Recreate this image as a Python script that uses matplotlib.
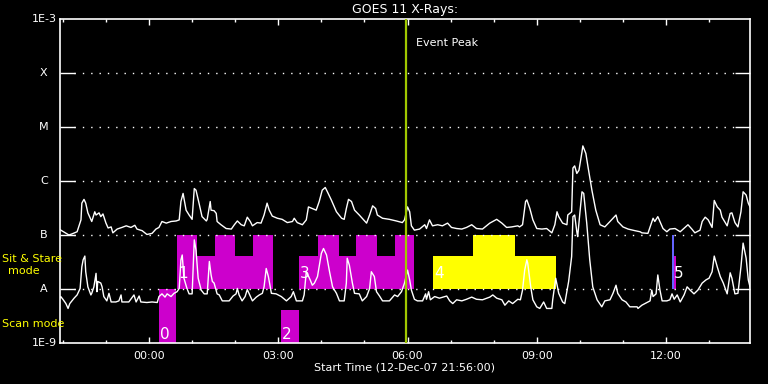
import matplotlib
matplotlib.use("Agg")
import matplotlib.pyplot as plt
import numpy as np

# ---- data (hours relative to 00:00, log10 flux W/m^2) ----
long_t = [-2.09,-1.86,-1.79,-1.67,-1.58,-1.56,-1.51,-1.47,-1.42,-1.33,
          -1.26,-1.23,-1.16,-1.12,-1.07,-1.00,-0.95,-0.88,-0.84,-0.74,
          -0.63,-0.53,-0.42,-0.33,-0.28,-0.16,-0.05,0.07,0.16,0.23,
          0.30,0.40,0.51,0.63,0.70,
          0.74,0.79,0.86,0.93,1.00,1.05,1.09,1.16,1.23,1.33,
          1.35,1.42,1.44,1.51,1.56,1.58,1.67,1.79,1.91,1.98,
          2.05,2.14,2.21,2.28,2.35,2.40,2.51,2.60,2.67,2.74,
          2.79,2.86,2.98,3.09,3.21,3.33,
          3.37,3.44,3.56,3.65,3.70,3.79,3.88,3.95,4.02,4.09,
          4.14,4.23,4.35,4.47,4.53,4.58,4.63,4.70,4.77,4.88,
          5.05,5.12,5.19,5.26,5.30,5.42,5.58,5.74,5.88,5.93,
          6.00,6.05,6.09,6.16,6.28,6.40,6.44,6.51,6.58,6.70,
          6.81,6.93,7.02,7.14,7.26,7.37,7.49,7.60,7.74,7.91,
          8.07,8.19,8.30,8.42,8.56,
          8.60,8.67,8.74,8.77,8.84,8.91,9.00,9.12,9.23,9.35,
          9.42,9.47,9.51,9.60,9.70,9.72,9.81,9.84,9.88,9.93,
          9.98,10.05,10.07,10.14,10.19,10.28,10.37,10.47,10.58,10.70,
          10.84,10.88,11.00,11.12,11.28,11.40,
          11.44,11.58,11.65,11.70,11.74,11.81,11.86,11.93,12.02,12.09,
          12.21,12.33,12.44,12.51,12.60,12.67,12.79,12.84,12.91,12.98,
          13.07,13.12,13.19,13.26,13.30,13.42,13.49,13.53,13.60,13.67,
          13.74,13.79,13.86,13.91,13.95]
long_log = [-6.89,-7.00,-6.98,-6.94,-6.72,-6.41,-6.34,-6.41,-6.59,-6.75,
            -6.57,-6.63,-6.59,-6.66,-6.61,-6.78,-6.87,-6.85,-6.96,-6.89,
            -6.86,-6.83,-6.86,-6.82,-6.89,-6.92,-6.99,-6.97,-6.89,-6.86,
            -6.75,-6.78,-6.75,-6.74,-6.72,
            -6.38,-6.23,-6.54,-6.63,-6.71,-6.14,-6.17,-6.41,-6.66,-6.74,
            -6.71,-6.38,-6.54,-6.55,-6.60,-6.75,-6.81,-6.88,-6.89,-6.81,
            -6.74,-6.81,-6.83,-6.67,-6.75,-6.83,-6.77,-6.78,-6.63,-6.41,
            -6.54,-6.65,-6.69,-6.71,-6.77,-6.75,
            -6.69,-6.77,-6.81,-6.72,-6.48,-6.51,-6.54,-6.38,-6.17,-6.12,
            -6.20,-6.35,-6.57,-6.69,-6.71,-6.51,-6.34,-6.38,-6.54,-6.63,
            -6.78,-6.63,-6.46,-6.51,-6.63,-6.69,-6.71,-6.74,-6.77,-6.72,
            -6.48,-6.57,-6.83,-6.91,-6.89,-6.81,-6.88,-6.72,-6.83,-6.81,
            -6.83,-6.78,-6.86,-6.88,-6.89,-6.86,-6.81,-6.88,-6.89,-6.78,
            -6.71,-6.78,-6.86,-6.85,-6.83,
            -6.85,-6.81,-6.38,-6.35,-6.51,-6.72,-6.88,-6.89,-6.88,-6.96,
            -6.81,-6.57,-6.66,-6.78,-6.81,-6.63,-6.57,-5.76,-5.72,-5.86,
            -5.80,-5.46,-5.35,-5.49,-5.74,-6.17,-6.54,-6.81,-6.85,-6.75,
            -6.63,-6.75,-6.85,-6.89,-6.92,-6.94,
            -6.96,-6.97,-6.81,-6.69,-6.75,-6.66,-6.75,-6.88,-6.94,-6.89,
            -6.88,-6.94,-6.86,-6.81,-6.89,-6.96,-6.91,-6.75,-6.67,-6.72,
            -6.86,-6.36,-6.48,-6.54,-6.67,-6.83,-6.60,-6.59,-6.77,-6.85,
            -6.57,-6.20,-6.26,-6.41,-6.48]

short_t = [-2.09,-2.05,-2.00,-1.93,-1.88,-1.84,-1.74,-1.67,-1.60,-1.56,
           -1.53,-1.49,-1.47,-1.42,-1.35,-1.33,-1.28,-1.23,-1.21,-1.19,
           -1.12,-1.09,-1.05,-0.98,-0.93,-0.88,-0.77,-0.70,-0.65,-0.63,
           -0.47,-0.35,-0.30,-0.23,-0.19,-0.05,0.07,0.19,0.23,0.30,
           0.37,0.42,0.51,0.58,0.65,
           0.70,0.74,0.77,0.81,0.88,0.93,1.00,1.05,1.09,1.14,
           1.21,1.28,1.35,1.40,1.44,1.47,1.51,1.58,1.63,1.70,
           1.86,1.95,2.02,2.05,2.09,2.16,2.23,2.28,2.35,2.40,
           2.49,2.56,2.63,2.67,2.72,2.77,2.84,2.95,3.07,3.19,
           3.30,3.35,
           3.42,3.56,3.60,3.65,3.67,3.74,3.79,3.84,3.91,4.00,
           4.05,4.12,4.19,4.26,4.35,4.42,4.53,4.58,4.60,4.65,
           4.72,4.77,4.88,4.95,5.05,5.12,5.16,5.23,5.28,5.35,
           5.42,5.58,5.70,5.77,5.86,5.93,
           6.00,6.05,6.09,6.16,6.23,6.35,6.42,6.44,6.49,6.53,
           6.63,6.74,6.91,6.98,7.05,7.14,7.26,7.37,7.49,7.60,
           7.74,7.91,7.98,8.07,8.19,8.26,8.35,8.44,8.56,
           8.62,8.67,8.72,8.77,8.79,8.86,8.91,9.00,9.07,9.16,
           9.23,9.35,9.37,9.44,9.51,9.60,9.65,9.74,9.81,9.84,
           9.88,9.93,9.95,10.00,10.05,10.09,10.16,10.23,10.30,10.40,
           10.51,10.58,10.70,10.77,10.84,10.88,10.98,11.07,11.16,11.33,
           11.35,11.44,11.63,11.67,11.70,11.77,11.81,11.86,11.91,12.02,
           12.09,12.14,12.19,12.26,12.33,12.42,12.49,12.56,12.65,12.74,
           12.84,12.93,13.00,13.07,13.12,13.19,13.26,13.33,13.42,13.49,
           13.53,13.60,13.67,13.74,13.79,13.86,13.91,13.95]
short_log = [-8.19,-8.14,-8.19,-8.27,-8.36,-8.27,-8.17,-8.11,-7.99,-7.59,
             -7.46,-7.39,-7.68,-7.96,-8.11,-8.08,-7.96,-7.71,-8.05,-7.86,
             -7.89,-7.96,-8.14,-8.22,-8.08,-8.24,-8.24,-8.22,-8.11,-8.24,
             -8.24,-8.11,-8.24,-8.13,-8.24,-8.25,-8.24,-8.25,-8.14,-8.09,
             -8.15,-8.09,-8.14,-8.08,-8.05,
             -7.99,-7.46,-7.37,-7.80,-7.99,-8.09,-8.09,-7.09,-7.28,-7.80,
             -8.02,-8.09,-8.09,-7.49,-7.74,-7.86,-7.89,-8.09,-8.11,-8.22,
             -8.22,-8.13,-8.09,-7.99,-8.11,-8.22,-8.14,-8.01,-8.13,-8.22,
             -8.15,-8.11,-8.08,-7.96,-7.62,-7.77,-8.08,-8.09,-8.14,-8.22,
             -8.14,-8.05,
             -8.22,-8.22,-8.11,-7.68,-7.71,-7.83,-7.93,-7.89,-7.77,-7.34,
             -7.25,-7.37,-7.68,-7.96,-8.08,-8.22,-8.22,-7.89,-7.43,-7.56,
             -7.89,-8.08,-8.09,-8.22,-8.14,-7.99,-7.68,-7.77,-8.05,-8.13,
             -8.22,-8.22,-8.11,-8.14,-8.05,-7.89,
             -7.65,-7.83,-8.02,-8.19,-8.22,-8.22,-8.09,-8.19,-8.05,-8.20,
             -8.14,-8.17,-8.13,-8.22,-8.27,-8.20,-8.22,-8.19,-8.15,-8.19,
             -8.20,-8.15,-8.11,-8.17,-8.20,-8.30,-8.22,-8.27,-8.19,
             -8.20,-8.02,-7.65,-7.46,-7.52,-7.96,-8.20,-8.33,-8.36,-8.24,
             -8.36,-8.36,-8.20,-7.80,-8.08,-8.24,-8.27,-7.86,-7.40,-6.66,
             -6.63,-6.94,-7.03,-6.60,-6.20,-6.23,-6.78,-7.46,-7.96,-8.20,
             -8.33,-8.22,-8.20,-8.08,-7.93,-8.08,-8.20,-8.24,-8.33,-8.33,
             -8.36,-8.30,-8.22,-8.02,-8.14,-8.09,-7.74,-8.02,-8.22,-8.22,
             -8.20,-8.09,-8.19,-8.11,-8.24,-8.11,-7.96,-8.02,-8.09,-8.02,
             -7.89,-7.83,-7.80,-7.68,-7.39,-7.59,-7.77,-7.89,-8.09,-7.70,
             -7.80,-8.09,-8.08,-7.59,-7.15,-7.43,-7.83,-7.96]

# observation blocks: start, end (hours), base & top (log10), colour
blk_start = [0.65, 1.12, 1.53, 2.00, 2.42, 3.49, 3.93, 4.40, 4.81, 5.28, 5.70,
             6.58, 7.53, 8.49, 12.14, 12.19, 0.23, 3.07]
blk_end   = [1.12, 1.53, 2.00, 2.42, 2.88, 3.93, 4.40, 4.81, 5.28, 5.70, 6.16,
             7.53, 8.49, 9.44, 12.19, 12.23, 0.63, 3.47]
blk_base  = [-8]*16 + [-9, -9]
blk_top   = [-7, -7.39, -7, -7.39, -7, -7.39, -7, -7.39, -7, -7.39, -7,
             -7.39, -7, -7.39, -7, -7.39, -8, -8.39]
blk_color = ["#cc00cc"]*11 + ["#ffff00"]*3 + ["#6464ff", "#cc00cc", "#cc00cc", "#cc00cc"]

lab_text = ["0", "1", "2", "3", "4", "5"]
lab_x    = [0.26, 0.68, 3.09, 3.51, 6.61, 12.19]
lab_y    = [-8.81, -7.685, -8.81, -7.685, -7.685, -7.685]

class_names = ["X", "M", "C", "B", "A"]
class_levels = [-4, -5, -6, -7, -8]
hour_ticks = [0, 3, 6, 9, 12]
hour_labels = ["00:00", "03:00", "06:00", "09:00", "12:00"]
event_peak = 5.97
x_min, x_max = -2.067, 13.95

# ---- figure ----
fig = plt.figure(figsize=(7.68, 3.84), dpi=100, facecolor="black")
ax = fig.add_axes([60/768, 41/384, 690/768, 324/384], facecolor="black")
ax.set_yscale("log")
ax.set_xlim(x_min, x_max)
ax.set_ylim(1e-9, 1e-3)

for s, e, b, t, c in zip(blk_start, blk_end, blk_base, blk_top, blk_color):
    ax.bar(s, 10**t - 10**b, width=e - s, bottom=10**b, align="edge",
           color=c, linewidth=0, zorder=1)

# dotted class grid
ax.hlines([10**l for l in class_levels], -1.74, 13.6, colors="white",
          linestyles=(0, (1, 5)), linewidth=1.0, zorder=2)

ax.plot(long_t, 10**np.array(long_log), color="white", lw=1.0, zorder=3)
ax.plot(short_t, 10**np.array(short_log), color="white", lw=1.0, zorder=3)

ax.axvline(event_peak, color="#a0c800", lw=1.6, zorder=4)
ax.text(event_peak + 0.23, 10**-3.45, "Event Peak", color="white", fontsize=8,
        va="center", ha="left")

for t, x, y in zip(lab_text, lab_x, lab_y):
    ax.text(x, 10**y, t, color="white", fontsize=11, ha="left",
            va="center_baseline", zorder=5)

for sp in ax.spines.values():
    sp.set_color("white")
    sp.set_linewidth(1.2)

ax.set_yticks([10**l for l in class_levels])
ax.set_yticklabels([])
ax.yaxis.set_minor_locator(matplotlib.ticker.NullLocator())
ax.tick_params(axis="y", which="major", direction="in", length=10.8, width=1.0,
               color="white", left=True, right=True)
ax.set_xticks(hour_ticks)
ax.set_xticklabels(hour_labels)
ax.set_xticks(np.arange(-2, 14, 1), minor=True)
ax.tick_params(axis="x", which="major", direction="in", length=4.5, width=1.0,
               color="white", top=True, bottom=True, labelcolor="white",
               labelsize=8, pad=6)
ax.tick_params(axis="x", which="minor", direction="in", length=2.5, width=1.0,
               color="white", top=True, bottom=True)

# y labels
for n, l in zip(class_names, class_levels):
    ax.text(-0.0235, 10**l, n, transform=ax.get_yaxis_transform(),
            color="white", fontsize=8, ha="center", va="center")
ax.text(-0.004, 1e-3, "1E-3", transform=ax.get_yaxis_transform(),
        color="white", fontsize=8, ha="right", va="center")
ax.text(-0.004, 1e-9, "1E-9", transform=ax.get_yaxis_transform(),
        color="white", fontsize=8, ha="right", va="center")

fig.text(405/768, 1 - 9/384, "GOES 11 X-Rays:", color="white", fontsize=9,
         ha="center", va="center")
fig.text(405/768, 1 - 367/384, "Start Time (12-Dec-07 21:56:00)", color="white",
         fontsize=8, ha="center", va="center")
fig.text(2/768, 1 - 259/384, "Sit & Stare", color="#ffff00", fontsize=8,
         ha="left", va="center")
fig.text(24/768, 1 - 271/384, "mode", color="#ffff00", fontsize=8,
         ha="center", va="center")
fig.text(2/768, 1 - 324/384, "Scan mode", color="#ffff00", fontsize=8,
         ha="left", va="center")

fig.savefig("out.png", dpi=100, facecolor="black")
